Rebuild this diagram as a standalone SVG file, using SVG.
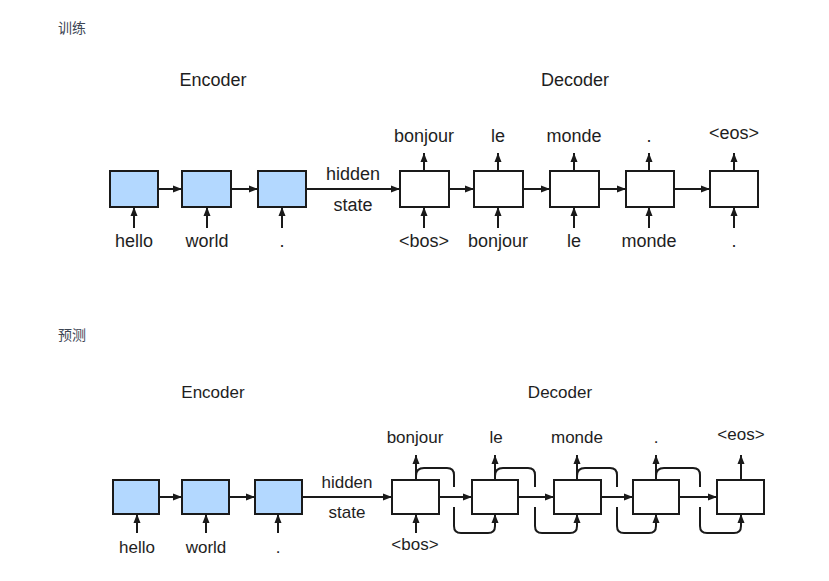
<svg xmlns="http://www.w3.org/2000/svg" width="829" height="581" viewBox="0 0 829 581">
<style>
text{font-family:"Liberation Sans",Arial,sans-serif;font-size:17px;fill:#1e1e1e;text-anchor:middle}
g.top text{font-size:18px}
text.cjk{font-family:"Noto Sans CJK SC","Liberation Sans",sans-serif;font-size:14px;fill:#3d4654;text-anchor:start}
.enc{fill:#b3d8ff;stroke:#1a1a1a;stroke-width:2}
.dec{fill:#ffffff;stroke:#1a1a1a;stroke-width:2}
.c{fill:none;stroke:#1a1a1a;stroke-width:2;marker-end:url(#ah)}
.l{fill:none;stroke:#1a1a1a;stroke-width:2}
</style>
<defs>
<marker id="ah" markerUnits="userSpaceOnUse" markerWidth="10" markerHeight="8" refX="9" refY="4" orient="auto">
<path d="M0,0.5 L9,4 L0,7.5 z" fill="#1a1a1a"/>
</marker>
</defs>
<rect width="829" height="581" fill="#ffffff"/>

<text class="cjk" x="58" y="33">训练</text>
<text class="cjk" x="58" y="340">预测</text>

<!-- Top diagram -->
<g class="top">
<g id="train-titles">
<text x="213" y="86">Encoder</text>
<text x="575" y="86">Decoder</text>
<text x="353" y="180">hidden</text>
<text x="353" y="211">state</text>
</g>
<g id="t-enc1"><rect class="enc" x="110" y="171" width="48" height="36"/><text x="134" y="247">hello</text></g>
<g id="t-enc2"><rect class="enc" x="182" y="171" width="49" height="36"/><text x="207" y="247">world</text></g>
<g id="t-enc3"><rect class="enc" x="258" y="171" width="48" height="36"/><text x="282" y="247">.</text></g>
<g id="t-dec1"><rect class="dec" x="400" y="171" width="49" height="36"/><text x="424" y="142">bonjour</text><text x="424" y="247">&lt;bos&gt;</text></g>
<g id="t-dec2"><rect class="dec" x="474" y="171" width="49" height="36"/><text x="498" y="142">le</text><text x="498" y="247">bonjour</text></g>
<g id="t-dec3"><rect class="dec" x="550" y="171" width="49" height="36"/><text x="574" y="142">monde</text><text x="574" y="247">le</text></g>
<g id="t-dec4"><rect class="dec" x="626" y="171" width="48" height="36"/><text x="649" y="142">.</text><text x="649" y="247">monde</text></g>
<g id="t-dec5"><rect class="dec" x="710" y="171" width="48" height="36"/><text x="734" y="139">&lt;eos&gt;</text><text x="734" y="247">.</text></g>
</g>

<g id="train-connectors">
<line class="c" x1="158" y1="189" x2="182" y2="189"/>
<line class="c" x1="231" y1="189" x2="258" y2="189"/>
<line class="c" x1="306" y1="189" x2="400" y2="189"/>
<line class="c" x1="449" y1="189" x2="474" y2="189"/>
<line class="c" x1="523" y1="189" x2="550" y2="189"/>
<line class="c" x1="599" y1="189" x2="626" y2="189"/>
<line class="c" x1="674" y1="189" x2="710" y2="189"/>
<line class="c" x1="134" y1="228" x2="134" y2="207"/>
<line class="c" x1="207" y1="228" x2="207" y2="207"/>
<line class="c" x1="282" y1="228" x2="282" y2="207"/>
<line class="c" x1="424" y1="228" x2="424" y2="207"/>
<line class="c" x1="498" y1="228" x2="498" y2="207"/>
<line class="c" x1="574" y1="228" x2="574" y2="207"/>
<line class="c" x1="649" y1="228" x2="649" y2="207"/>
<line class="c" x1="734" y1="228" x2="734" y2="207"/>
<line class="c" x1="424" y1="171" x2="424" y2="153"/>
<line class="c" x1="498" y1="171" x2="498" y2="153"/>
<line class="c" x1="574" y1="171" x2="574" y2="153"/>
<line class="c" x1="649" y1="171" x2="649" y2="153"/>
<line class="c" x1="734" y1="171" x2="734" y2="153"/>
</g>

<!-- Bottom diagram -->
<g id="pred-titles">
<text x="213" y="398">Encoder</text>
<text x="560" y="398">Decoder</text>
<text x="347" y="488">hidden</text>
<text x="347" y="518">state</text>
</g>
<g id="p-enc1"><rect class="enc" x="113" y="480" width="46" height="34"/><text x="137" y="553">hello</text></g>
<g id="p-enc2"><rect class="enc" x="182" y="480" width="47" height="34"/><text x="206" y="553">world</text></g>
<g id="p-enc3"><rect class="enc" x="255" y="480" width="47" height="34"/><text x="278" y="553">.</text></g>
<g id="p-dec1"><rect class="dec" x="392" y="480" width="47" height="34"/><text x="415" y="443">bonjour</text><text x="415" y="550">&lt;bos&gt;</text></g>
<g id="p-dec2"><rect class="dec" x="472" y="480" width="46" height="34"/><text x="496" y="443">le</text></g>
<g id="p-dec3"><rect class="dec" x="554" y="480" width="47" height="34"/><text x="577" y="443">monde</text></g>
<g id="p-dec4"><rect class="dec" x="633" y="480" width="46" height="34"/><text x="656" y="443">.</text></g>
<g id="p-dec5"><rect class="dec" x="717" y="480" width="47" height="34"/><text x="741" y="440">&lt;eos&gt;</text></g>

<g id="pred-connectors">
<line class="c" x1="159" y1="497" x2="182" y2="497"/>
<line class="c" x1="229" y1="497" x2="255" y2="497"/>
<line class="c" x1="302" y1="497" x2="392" y2="497"/>
<line class="c" x1="439" y1="497" x2="472" y2="497"/>
<line class="c" x1="518" y1="497" x2="554" y2="497"/>
<line class="c" x1="601" y1="497" x2="633" y2="497"/>
<line class="c" x1="679" y1="497" x2="717" y2="497"/>
<line class="c" x1="137" y1="533" x2="137" y2="514"/>
<line class="c" x1="206" y1="533" x2="206" y2="514"/>
<line class="c" x1="278" y1="533" x2="278" y2="514"/>
<line class="c" x1="416" y1="533" x2="416" y2="514"/>
<line class="c" x1="416" y1="480" x2="416" y2="455"/>
<line class="c" x1="495" y1="480" x2="495" y2="455"/>
<line class="c" x1="577" y1="480" x2="577" y2="455"/>
<line class="c" x1="656" y1="480" x2="656" y2="455"/>
<line class="c" x1="741" y1="480" x2="741" y2="455"/>
<path class="l" d="M416,476 Q416,468 424,468 L447,468 Q454,468 454,475 L454,487"/>
<path class="l" d="M495,476 Q495,468 503,468 L528,468 Q535,468 535,475 L535,487"/>
<path class="l" d="M577,476 Q577,468 585,468 L610,468 Q617,468 617,475 L617,487"/>
<path class="l" d="M656,476 Q656,468 664,468 L693,468 Q700,468 700,475 L700,487"/>
<path class="c" d="M454,507 L454,526 Q454,533 461,533 L488,533 Q495,533 495,526 L495,514"/>
<path class="c" d="M535,507 L535,526 Q535,533 542,533 L570,533 Q577,533 577,526 L577,514"/>
<path class="c" d="M617,507 L617,526 Q617,533 624,533 L649,533 Q656,533 656,526 L656,514"/>
<path class="c" d="M700,507 L700,526 Q700,533 707,533 L734,533 Q741,533 741,526 L741,514"/>
</g>
</svg>
